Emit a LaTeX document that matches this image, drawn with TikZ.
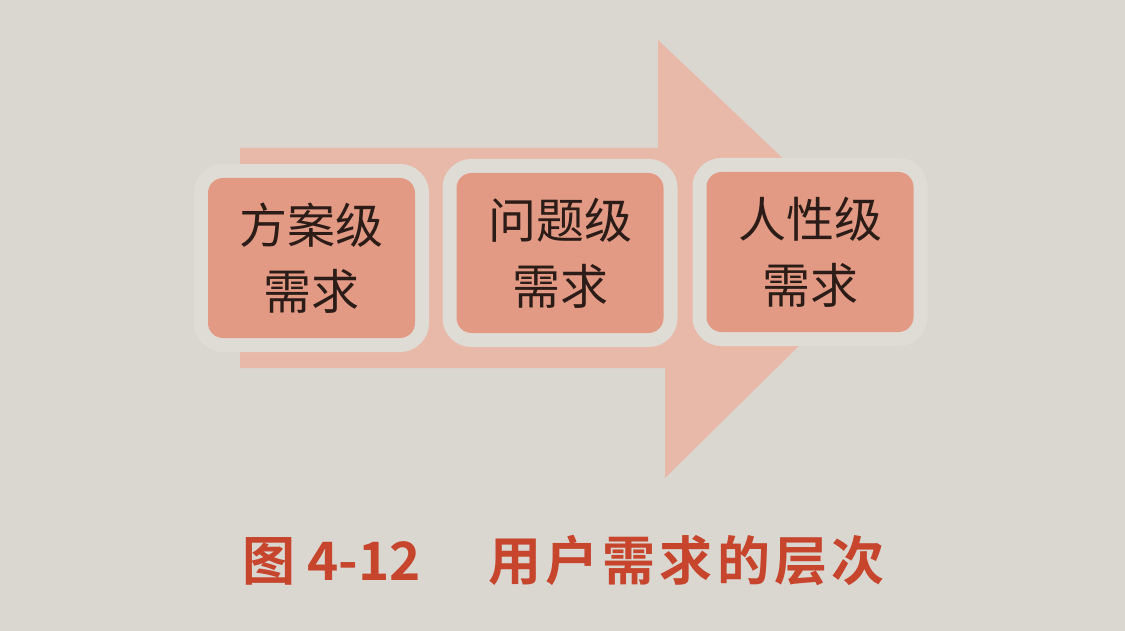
\documentclass[tikz,border=0pt]{standalone}
\usepackage{fontspec}
\newfontfamily\cjk{Noto Sans CJK SC}
\newfontfamily\cjkb{Noto Sans CJK SC Bold}
\newfontfamily\cjkbs{Noto Sans CJK SC Bold}[LetterSpace=8]
\definecolor{paper}{HTML}{DAD7D1}
\definecolor{arrowc}{HTML}{E8B8A9}
\definecolor{boxc}{HTML}{E39A85}
\definecolor{ringc}{HTML}{DFDCD6}
\definecolor{textc}{HTML}{2B1C17}
\definecolor{capc}{HTML}{C6452C}
\tikzset{
  levelbox/.style={fill=boxc, rounded corners=15pt, minimum width=207pt, minimum height=160pt,
    inner sep=0pt, align=center, text=textc, font=\cjk\fontsize{48}{66}\selectfont,
    preaction={draw=ringc, line width=28pt, rounded corners=15pt}},
  bigarrow/.style={fill=arrowc, draw=none},
  captext/.style={anchor=west, inner sep=0pt, text=capc},
}
\begin{document}
\begin{tikzpicture}[x=1pt,y=-1pt]
\fill[paper] (0,0) rectangle (1125,631);
\useasboundingbox (0,0) rectangle (1125,631);
\fill[bigarrow] (240,148) -- (658,148) -- (658,40) -- (888,258) -- (665,478) -- (665,368) -- (240,368) -- cycle;
\node[levelbox] (a1) at (311.5,258) {方案级\\需求};
\node[levelbox] (a2) at (560,253) {问题级\\需求};
\node[levelbox] (a3) at (810,252) {人性级\\需求};
\node[captext, font=\cjkb\fontsize{53}{60}\selectfont] (cap) at (242,561) {图 4-12};
\node[captext, font=\cjkbs\fontsize{53}{60}\selectfont] (title) at (488,561) {用户需求的层次};
\end{tikzpicture}
\end{document}
